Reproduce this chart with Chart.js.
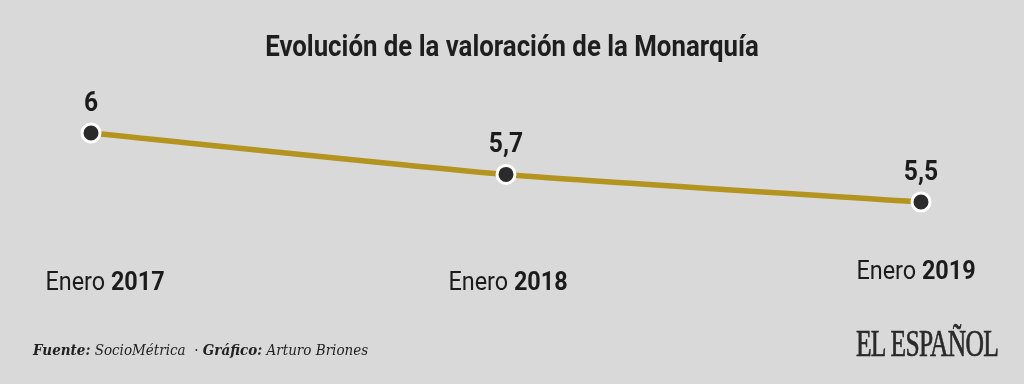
<!DOCTYPE html>
<html>
<head>
<meta charset="utf-8">
<script src="https://cdn.jsdelivr.net/npm/chart.js@4"></script>
<style>
  html, body { margin: 0; padding: 0; background: #d9d9d9; }
  #wrap { position: relative; width: 1024px; height: 384px; overflow: hidden; background: #d9d9d9; }
  #chart { position: absolute; left: 0; top: 0; }
  .title { position: absolute; left: 0; width: 1024px; top: 28px; text-align: center;
    font: bold 30px Roboto, sans-serif; color: #1e1e1e; transform: scaleX(0.86); transform-origin: 512px 0; }
  .source { position: absolute; left: 33px; top: 341px; font: italic 15px "DejaVu Serif", serif; color: #222;
    transform: scaleX(0.9); transform-origin: 0 0; white-space: nowrap; }
  .source b { font-weight: bold; }
  .logo { position: absolute; right: 26px; top: 322px; font: 37px "Liberation Serif", serif; color: #2a2a2a;
    letter-spacing: -1px; transform: scaleX(0.69); transform-origin: right top; white-space: nowrap;
    -webkit-text-stroke: 0.7px #2a2a2a; }
</style>
</head>
<body>
<div id="wrap">
  <canvas id="chart" width="1024" height="384"></canvas>
  <div class="title">Evolución de la valoración de la Monarquía</div>
  <div class="source"><b>Fuente:</b> SocioMétrica &nbsp;· <b>Gráfico:</b> Arturo Briones</div>
  <div class="logo">EL ESPAÑOL</div>
</div>
<script>
const months = ['Enero', 'Enero', 'Enero'];
const years = ['2017', '2018', '2019'];
const values = [6, 5.7, 5.5];
const valueLabels = ['6', '5,7', '5,5'];

// x labels sit a bit lower/higher per point in the original
const labelDrop = [81, 81, 70];
const labelShift = [14, 2, -5];

const pointLabels = {
  id: 'pointLabels',
  afterDatasetsDraw(chart) {
    const ctx = chart.ctx;
    const meta = chart.getDatasetMeta(0);
    meta.data.forEach((pt, i) => {
      ctx.save();
      ctx.fillStyle = '#1b1b1b';
      ctx.textBaseline = 'middle';
      ctx.textAlign = 'center';
      // value label
      ctx.translate(pt.x, pt.y - 29);
      ctx.scale(0.88, 1);
      ctx.font = 'bold 28px Roboto, sans-serif';
      ctx.fillText(valueLabels[i], 0, 0);
      ctx.restore();

      // category label: "Enero" regular + year bold
      ctx.save();
      ctx.fillStyle = '#1b1b1b';
      ctx.textBaseline = 'middle';
      ctx.font = '26px Roboto, sans-serif';
      const a = months[i] + ' ';
      const wa = ctx.measureText(a).width;
      ctx.font = 'bold 26px Roboto, sans-serif';
      const wb = ctx.measureText(years[i]).width;
      ctx.translate(pt.x + labelShift[i], chart.chartArea.bottom + labelDrop[i]);
      ctx.scale(0.9, 1);
      const start = -(wa + wb) / 2;
      ctx.textAlign = 'left';
      ctx.font = '26px Roboto, sans-serif';
      ctx.fillText(a, start, 0);
      ctx.font = 'bold 26px Roboto, sans-serif';
      ctx.fillText(years[i], start + wa, 0);
      ctx.restore();
    });
  }
};

new Chart(document.getElementById('chart'), {
  type: 'line',
  data: {
    labels: years,
    datasets: [{
      data: values,
      borderColor: '#b3941e',
      borderWidth: 5.5,
      tension: 0.2,
      pointRadius: 9,
      pointBorderWidth: 3,
      pointBackgroundColor: '#2b2b2b',
      pointBorderColor: '#ffffff',
      clip: false
    }]
  },
  options: {
    responsive: false,
    animation: false,
    layout: { padding: { left: 91, right: 103, top: 133, bottom: 182 } },
    plugins: { legend: { display: false }, tooltip: { enabled: false } },
    scales: {
      x: { display: false, offset: false },
      y: { display: false, min: 5.5, max: 6 }
    }
  },
  plugins: [pointLabels]
});
</script>
</body>
</html>
